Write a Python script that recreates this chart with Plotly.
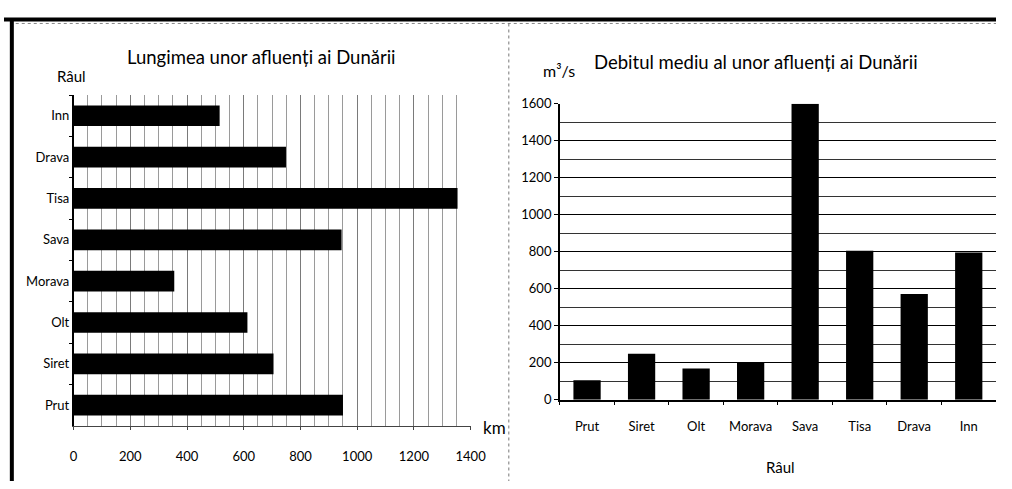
import plotly.graph_objects as go

# Rivers (bottom-to-top for the length chart, left-to-right for the discharge chart)
rivers = ["Prut", "Siret", "Olt", "Morava", "Sava", "Tisa", "Drava", "Inn"]
length_km = [950, 705, 613, 355, 945, 1354, 749, 515]
discharge_m3s = [105, 248, 169, 200, 1600, 805, 571, 796]

length_ticks = [0, 200, 400, 600, 800, 1000, 1200, 1400]
discharge_ticks = [0, 200, 400, 600, 800, 1000, 1200, 1400, 1600]

W, H = 1012, 489
FONT = "Lato"


def px(x):
    return x / W


def py(y):
    return 1 - y / H


fig = go.Figure()

fig.add_trace(go.Bar(
    x=length_km, y=rivers, orientation="h",
    marker=dict(color="black", line=dict(width=0)),
    xaxis="x", yaxis="y", showlegend=False,
))

fig.add_trace(go.Bar(
    x=rivers, y=discharge_m3s,
    marker=dict(color="black", line=dict(width=0)),
    xaxis="x2", yaxis="y2", showlegend=False,
))

tick_font = dict(family=FONT, size=13, color="black")

fig.update_layout(
    width=W, height=H,
    margin=dict(l=0, r=0, t=0, b=0),
    paper_bgcolor="white", plot_bgcolor="white",
    bargap=0.5,
    font=dict(family=FONT, color="black"),
    xaxis=dict(
        domain=[px(71), px(476)], range=[0, 1400],
        tickvals=length_ticks, ticktext=[str(v) for v in length_ticks],
        tickfont=tick_font, ticks="outside", ticklen=3, tickcolor="#444",
        ticklabelstandoff=16,
        showgrid=True, gridcolor="#7a7a7a", gridwidth=1,
        minor=dict(dtick=50, showgrid=True, gridcolor="#9a9a9a", gridwidth=1),
        showline=True, linecolor="#444", linewidth=1,
        zeroline=False, anchor="y", fixedrange=True,
    ),
    yaxis=dict(
        domain=[py(432), py(90)],
        categoryorder="array", categoryarray=rivers,
        tickfont=tick_font, tickson="boundaries", ticks="outside",
        ticklen=3, tickcolor="black",
        showline=True, linecolor="black", linewidth=1.5,
        showgrid=False, zeroline=False, anchor="x", fixedrange=True,
    ),
    xaxis2=dict(
        domain=[px(567), 1.0],
        categoryorder="array", categoryarray=rivers,
        tickfont=tick_font, tickson="boundaries", ticks="outside",
        ticklen=4, tickcolor="black", ticklabelstandoff=14,
        showline=True, linecolor="black", linewidth=1.5,
        showgrid=False, zeroline=False, anchor="y2", fixedrange=True,
    ),
    yaxis2=dict(
        domain=[py(405), py(99)], range=[0, 1600],
        tickvals=discharge_ticks, ticktext=[str(v) for v in discharge_ticks],
        tickfont=tick_font, ticks="outside", ticklen=4, tickcolor="black",
        showgrid=True, gridcolor="black", gridwidth=1,
        minor=dict(dtick=100, showgrid=True, gridcolor="#333", gridwidth=1),
        showline=True, linecolor="black", linewidth=1.5,
        zeroline=False, anchor="x2", fixedrange=True,
    ),
)

annotations = [
    dict(text="Lungimea unor afluenți ai Dunării", x=px(263), y=py(51),
         font=dict(family=FONT, size=18.5)),
    dict(text="Râul", x=px(69), y=py(70), font=dict(family=FONT, size=15)),
    dict(text="km", x=px(500), y=py(434), font=dict(family=FONT, size=17)),
    dict(text="Debitul mediu al unor afluenți ai Dunării", x=px(767), y=py(56),
         font=dict(family=FONT, size=18.5)),
    dict(text="m³/s", x=px(566), y=py(65), font=dict(family=FONT, size=16)),
    dict(text="Râul", x=px(792), y=py(475), font=dict(family=FONT, size=15)),
]
for a in annotations:
    fig.add_annotation(xref="paper", yref="paper", showarrow=False,
                       xanchor="center", yanchor="middle", **a)

# Frame: thick top and left borders, dotted separator between the panels
fig.add_shape(type="line", xref="paper", yref="paper",
              x0=0, x1=1, y0=py(12), y1=py(12),
              line=dict(color="black", width=4))
fig.add_shape(type="line", xref="paper", yref="paper",
              x0=px(8), x1=px(8), y0=py(12), y1=0,
              line=dict(color="black", width=4))
fig.add_shape(type="line", xref="paper", yref="paper",
              x0=px(12), x1=1, y0=py(16), y1=py(16),
              line=dict(color="#888", width=1, dash="dot"))
fig.add_shape(type="line", xref="paper", yref="paper",
              x0=px(515), x1=px(515), y0=py(16), y1=0,
              line=dict(color="#777", width=1, dash="dot"))

fig.write_html("out.html")
